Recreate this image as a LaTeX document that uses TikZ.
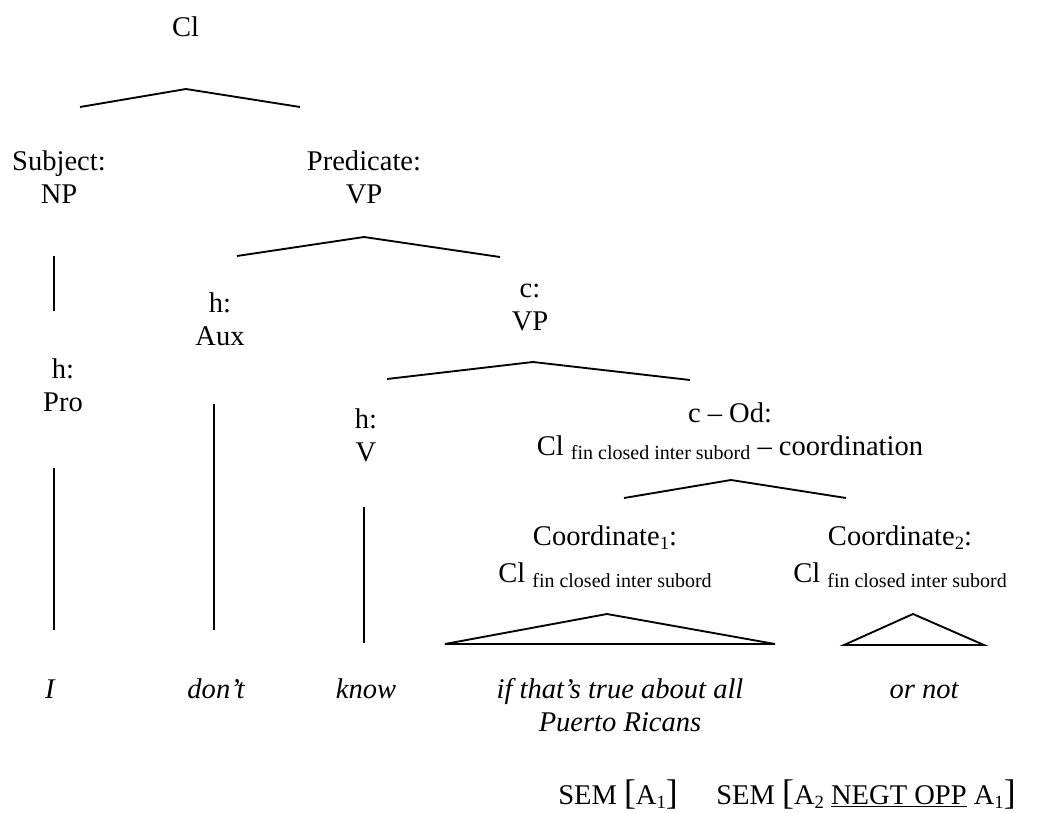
\documentclass[tikz,border=0pt]{standalone}
\usepackage{fontspec}
\setmainfont{LiberationSerif}[
  Extension=.ttf,
  UprightFont=*-Regular,
  BoldFont=*-Bold,
  ItalicFont=*-Italic,
  BoldItalicFont=*-BoldItalic]
% small lowered text for category features and indices
\newcommand{\feat}[1]{\raisebox{-3.5pt}{\fontsize{15pt}{15pt}\selectfont #1}}
\newcommand{\idx}[1]{\raisebox{-3pt}{\fontsize{14pt}{14pt}\selectfont #1}}
\newcommand{\bigbr}[1]{{\fontsize{26.75pt}{26.75pt}\selectfont #1}}
\begin{document}
\begin{tikzpicture}[x=0.75pt,y=-0.75pt,
  lbl/.style={font=\fontsize{21.4pt}{24.75pt}\selectfont, align=center, inner sep=0pt, anchor=base},
  word/.style={lbl, font=\fontsize{21.4pt}{24.75pt}\selectfont\itshape},
  branch/.style={line width=1.4pt, line join=miter},
]
\useasboundingbox (0,0) rectangle (1054,813);

% category and function labels (base = baseline of the last line)
\node[lbl] (cl)    at (185.5,36.7) {Cl};
\node[lbl] (subj)  at (59,203.3)   {Subject:\\NP};
\node[lbl] (pred)  at (364,203.3)  {Predicate:\\VP};
\node[lbl] (pro)   at (63,411.7)   {h:\\Pro};
\node[lbl] (aux)   at (220,345)    {h:\\Aux};
\node[lbl] (cvp)   at (530,330)    {c:\\VP};
\node[lbl] (verb)  at (366,461.7)  {h:\\V};
\node[lbl] (od)    at (730,455)    {c -- Od:\\Cl \feat{fin closed inter subord} -- coordination};
\node[lbl] (coa)   at (605,582.7)  {Coordinate\idx{1}:\\[3.5pt]Cl \feat{fin closed inter subord}};
\node[lbl] (cob)   at (900,582.7)  {Coordinate\idx{2}:\\[3.5pt]Cl \feat{fin closed inter subord}};

% the words
\node[word] (w1) at (50,698)  {I};
\node[word] (w2) at (216,698) {don’t};
\node[word] (w3) at (366,698) {know};
\node[word] (w4) at (620,731) {if that’s true about all\\Puerto Ricans};
\node[word] (w5) at (924,698) {or not};

% semantic annotations
\node[lbl] (sema) at (618,804) {SEM \bigbr{[}A\idx{1}\bigbr{]}};
\node[lbl] (semb) at (866,804) {SEM \bigbr{[}A\idx{2} \underline{NEGT OPP} A\idx{1}\bigbr{]}};

% branch end points
\coordinate (cl-l) at (80,107);   \coordinate (cl-t) at (186,89);   \coordinate (cl-r) at (300,107);
\coordinate (pr-l) at (237,256);  \coordinate (pr-t) at (364,237);  \coordinate (pr-r) at (500,257);
\coordinate (cv-l) at (387,379);  \coordinate (cv-t) at (533,362);  \coordinate (cv-r) at (690,380);
\coordinate (od-l) at (624,498);  \coordinate (od-t) at (731,480);  \coordinate (od-r) at (846,498);
\coordinate (ta-l) at (445,644);  \coordinate (ta-t) at (607,614);  \coordinate (ta-r) at (775,644);
\coordinate (tb-l) at (844,645);  \coordinate (tb-t) at (913,614);  \coordinate (tb-r) at (984,645);
\coordinate (sj-a) at (54,256);   \coordinate (sj-b) at (54,311);
\coordinate (pr-a) at (54,468);   \coordinate (pr-b) at (54,630);
\coordinate (ax-a) at (214,404);  \coordinate (ax-b) at (214,630);
\coordinate (vb-a) at (364,507);  \coordinate (vb-b) at (364,643);

% branches
\draw[branch] (cl-l) -- (cl-t) -- (cl-r);
\draw[branch] (pr-l) -- (pr-t) -- (pr-r);
\draw[branch] (cv-l) -- (cv-t) -- (cv-r);
\draw[branch] (od-l) -- (od-t) -- (od-r);
\draw[branch] (ta-l) -- (ta-t) -- (ta-r) -- cycle;
\draw[branch] (tb-l) -- (tb-t) -- (tb-r) -- cycle;
\draw[branch] (sj-a) -- (sj-b);
\draw[branch] (pr-a) -- (pr-b);
\draw[branch] (ax-a) -- (ax-b);
\draw[branch] (vb-a) -- (vb-b);
\end{tikzpicture}
\end{document}
